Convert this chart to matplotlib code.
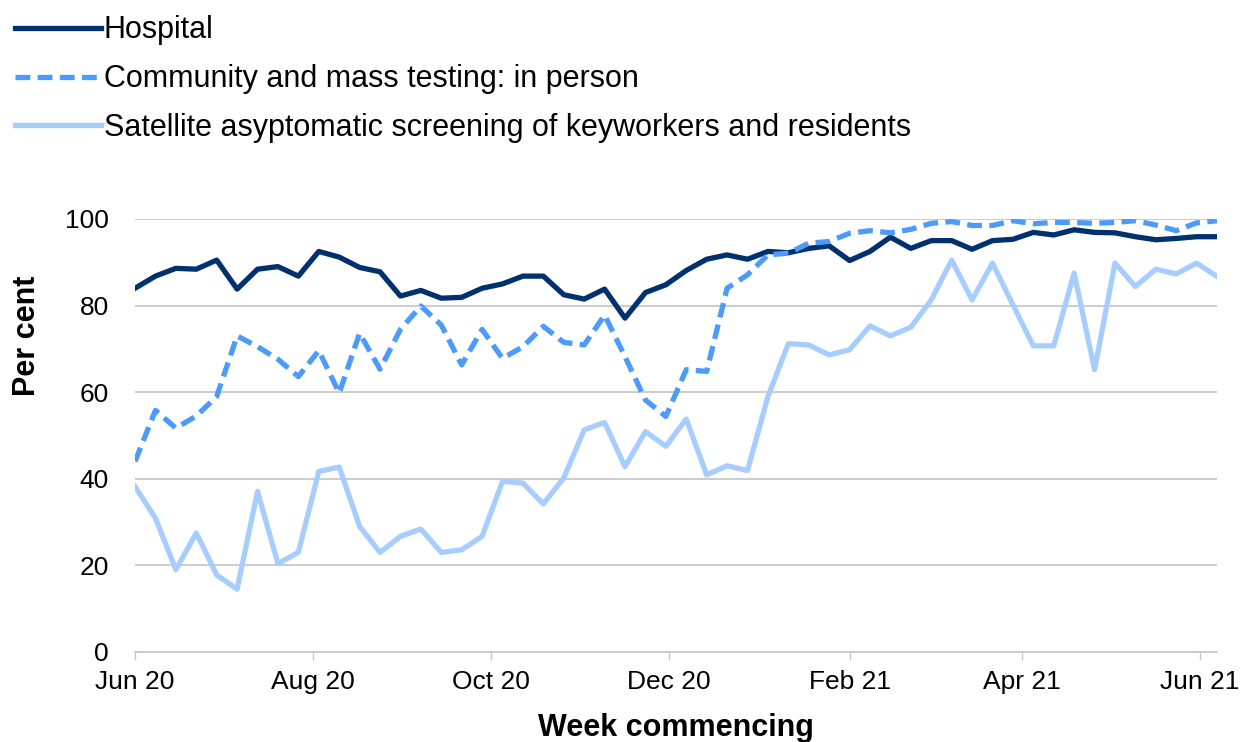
import numpy as np
import pandas as pd
import matplotlib
matplotlib.use("Agg")
import matplotlib.pyplot as plt
import matplotlib.dates as mdates

plt.rcParams['font.family'] = ['Liberation Sans', 'DejaVu Sans']

# weekly data, week commencing Mon 1 Jun 2020
weeks = pd.date_range("2020-06-01", periods=54, freq="7D")

hospital = [
    84.0, 86.8, 88.6, 88.4, 90.5, 83.8, 88.4, 89.0, 86.8, 92.5,
    91.2, 88.8, 87.8, 82.2, 83.5, 81.7, 81.9, 84.0, 85.0, 86.8,
    86.8, 82.5, 81.5, 83.8, 77.1, 83.0, 84.8, 88.1, 90.7, 91.7,
    90.7, 92.5, 92.2, 93.2, 93.8, 90.4, 92.5, 95.8, 93.2, 95.0,
    95.0, 93.0, 95.0, 95.3, 96.9, 96.3, 97.5, 96.9, 96.8, 95.9,
    95.2, 95.5, 95.9, 95.9,
]
community = [
    44.0, 55.8, 51.7, 54.5, 59.0, 73.0, 70.5, 67.6, 63.6, 69.6,
    59.8, 73.6, 65.3, 74.5, 79.9, 75.5, 66.3, 74.5, 67.8, 70.5,
    75.2, 71.5, 70.9, 77.8, 68.2, 58.2, 54.4, 65.2, 64.8, 84.0,
    87.1, 91.7, 92.1, 94.4, 94.8, 96.7, 97.3, 96.8, 97.6, 99.0,
    99.4, 98.5, 98.5, 99.6, 98.9, 99.2, 99.2, 99.0, 99.2, 99.6,
    98.6, 97.3, 99.1, 99.6,
]
satellite = [
    38.2, 30.9, 19.0, 27.5, 17.8, 14.5, 37.1, 20.4, 23.0, 41.7,
    42.7, 29.0, 23.0, 26.7, 28.4, 23.0, 23.6, 26.7, 39.4, 39.0,
    34.2, 40.2, 51.3, 53.0, 42.8, 50.9, 47.5, 53.8, 40.9, 43.0,
    41.9, 59.0, 71.2, 70.9, 68.6, 69.8, 75.3, 73.0, 75.0, 81.3,
    90.5, 81.3, 89.8, 80.2, 70.7, 70.7, 87.5, 65.2, 89.8, 84.4,
    88.4, 87.3, 89.8, 86.7,
]
labels = [
    "Hospital",
    "Community and mass testing: in person",
    "Satellite asyptomatic screening of keyworkers and residents",
]

fig = plt.figure(figsize=(12.4, 7.42), dpi=100)
ax = fig.add_axes([0.1089, 0.1213, 0.8726, 0.5836])

ax.plot(weeks, hospital, color="#00306e", lw=3.8, label=labels[0])
ax.plot(weeks, community, color="#4c9bfa", lw=3.8, dashes=(2.8, 1.4), label=labels[1])
ax.plot(weeks, satellite, color="#a7cdff", lw=3.8, label=labels[2])

ax.set_ylim(0, 100)
ax.set_xlim(weeks[0], weeks[-1])
ax.set_yticks(range(0, 101, 20))
ax.yaxis.grid(True, color="#c8c8c8", lw=1.3)
ax.set_axisbelow(True)

ax.xaxis.set_major_locator(mdates.MonthLocator(bymonth=[2, 4, 6, 8, 10, 12]))
ax.xaxis.set_major_formatter(mdates.DateFormatter("%b %y"))

for s in ["top", "right", "left"]:
    ax.spines[s].set_visible(False)
ax.spines["bottom"].set_color("#c8c8c8")
ax.spines["bottom"].set_linewidth(1.3)

ax.tick_params(axis="y", length=0, pad=19, labelsize=19)
ax.tick_params(axis="x", length=6, width=1.0, color="#c8c8c8", pad=7, labelsize=19)

ax.set_xlabel("Week commencing", fontsize=22, fontweight="bold", labelpad=14)
ax.set_ylabel("Per cent", fontsize=22, fontweight="bold", va="center")
ax.yaxis.set_label_coords(-0.100, 0.73)

fig.legend(loc="upper left", bbox_to_anchor=(0.0, 1.0), frameon=False,
           fontsize=22, handlelength=2.8, handletextpad=0.1, labelspacing=0.62,
           borderaxespad=0.1)

fig.savefig("out.png", dpi=100)
